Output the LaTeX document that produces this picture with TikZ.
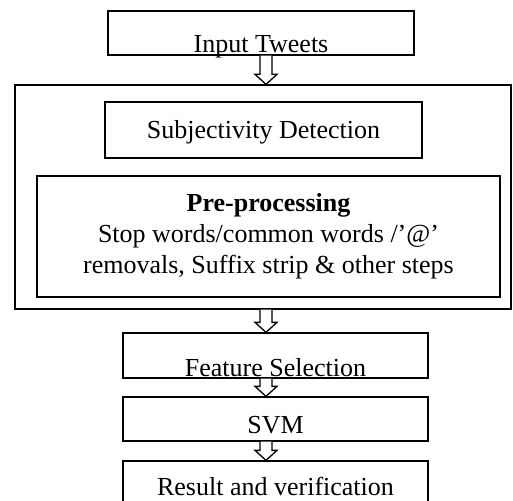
\documentclass[tikz,border=0pt]{standalone}
\usepackage{fontspec}
\setmainfont{Liberation Serif}
\usetikzlibrary{calc}
\tikzset{stage/.style={draw, rectangle, inner sep=0pt}}
\newcommand{\hollowarrow}[2]{%
  \draw[fill=white] ($(#1.south -| spine)+(-6,0)$) -- ($(#2.north -| spine)+(-6,-10)$)
    -- ($(#2.north -| spine)+(-11,-10)$) -- (#2.north -| spine)
    -- ($(#2.north -| spine)+(11,-10)$) -- ($(#2.north -| spine)+(6,-10)$)
    -- ($(#1.south -| spine)+(6,0)$);}

\begin{document}
\begin{tikzpicture}[x=1pt, y=-1pt, line width=1.3pt, font=\fontsize{26}{31}\selectfont]
			\clip (0,0) rectangle (513,500);
			\coordinate (spine) at (266,0);

			\node[stage, minimum width=496pt, minimum height=224pt] (outer) at (263,197) {};
			\node[stage, minimum width=306pt, text height=42pt, text depth=2pt] (tweets) at (261,33) {Input Tweets};
			\node[stage, minimum width=317pt, text height=36pt, text depth=20pt] (subj) at (263.5,130) {Subjectivity Detection};
			\node[stage, minimum width=463pt, minimum height=121pt, align=center] (prep) at (268.5,236.5)
				{\textbf{Pre-processing}\\Stop words/common words /’@’\\removals, Suffix strip \& other steps};
			\node[stage, minimum width=305pt, text height=43pt, text depth=2pt] (feat) at (275.5,355.5) {Feature Selection};
			\node[stage, minimum width=305pt, text height=36pt, text depth=8pt] (svm) at (275.5,419) {SVM};
			\node[stage, minimum width=305pt, text height=34pt, text depth=10pt] (result) at (275.5,483) {Result and verification};

			\hollowarrow{tweets}{outer}
			\hollowarrow{outer}{feat}
			\hollowarrow{feat}{svm}
			\hollowarrow{svm}{result}
		\end{tikzpicture}
\end{document}
